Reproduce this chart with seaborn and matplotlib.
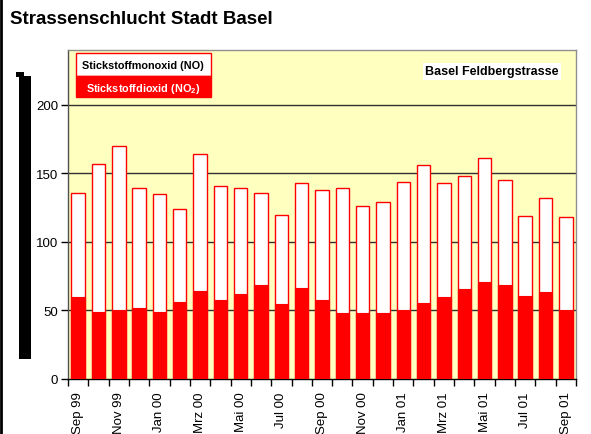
import matplotlib
matplotlib.use("Agg")
import matplotlib.pyplot as plt
from matplotlib.patches import Rectangle
from matplotlib.lines import Line2D
import seaborn as sns
import pandas as pd

# Monatswerte Sep 99 - Sep 01
monate = ["Sep 99", "Okt 99", "Nov 99", "Dez 99", "Jan 00", "Feb 00", "Mrz 00",
          "Apr 00", "Mai 00", "Jun 00", "Jul 00", "Aug 00", "Sep 00", "Okt 00",
          "Nov 00", "Dez 00", "Jan 01", "Feb 01", "Mrz 01", "Apr 01", "Mai 01",
          "Jun 01", "Jul 01", "Aug 01", "Sep 01"]
no2 = [60, 49, 50, 51.5, 49, 56.5, 64.5, 57.5, 62, 68.5, 54.5, 66.5, 57.5, 48,
       48.5, 48, 50, 55.5, 59.5, 65.5, 71, 68.5, 60.5, 63.5, 50]
no = [76, 108, 120, 87.5, 86, 67.5, 99.5, 83.5, 77, 67.5, 65.5, 76.5, 80.5, 91,
      77.5, 81, 94, 100.5, 83.5, 82.5, 90, 76.5, 58.5, 68.5, 68]
y_ticks = [0, 50, 100, 150, 200]

df = pd.DataFrame({"Monat": monate, "NO2": no2, "NO": no})
df["Summe"] = df["NO2"] + df["NO"]

sns.set_theme(style="white")
plt.rcParams["font.family"] = ["Liberation Sans", "DejaVu Sans"]
plt.rcParams["text.color"] = "black"
plt.rcParams["xtick.color"] = "black"
plt.rcParams["ytick.color"] = "black"
plt.rcParams["mathtext.fontset"] = "custom"
plt.rcParams["mathtext.rm"] = "Liberation Sans:bold"
plt.rcParams["mathtext.it"] = "Liberation Sans:bold"
plt.rcParams["mathtext.bf"] = "Liberation Sans:bold"

fig = plt.figure(figsize=(5.91, 4.35), dpi=100)
ax = fig.add_axes([68 / 591, 55 / 435, 508 / 591, 329 / 435])
ax.set_facecolor("#FFFFC0")

# gestapelte Balken: erst Summe (weiss), dann NO2 (rot) darueber
sns.barplot(data=df, x="Monat", y="Summe", order=monate, color="white",
            edgecolor="#FF0000", linewidth=1, width=0.66, saturation=1, ax=ax, zorder=3)
sns.barplot(data=df, x="Monat", y="NO2", order=monate, color="#FF0000",
            edgecolor="#FF0000", linewidth=0.8, width=0.66, saturation=1, ax=ax, zorder=4)

ax.set_ylim(0, 240)
ax.set_xlim(-0.5, len(monate) - 0.5)
ax.set_yticks(y_ticks)
ax.set_yticklabels([str(v) for v in y_ticks], fontsize=9.5)
for v in y_ticks[1:]:
    ax.axhline(v, color="#303030", lw=1, zorder=2)

ax.set_xticks(range(0, len(monate), 2))
ax.set_xticklabels(monate[::2], rotation=90, fontsize=9.5)
ax.set_xticks([i - 0.5 for i in range(len(monate) + 1)], minor=True)
ax.tick_params(axis="x", which="major", length=0, pad=9)
ax.tick_params(axis="x", which="minor", length=5, width=1, color="black", direction="out", bottom=True)
ax.tick_params(axis="y", length=5, width=1, color="black", direction="out", left=True, pad=2)
ax.set_xlabel("")
ax.set_ylabel("")

ax.spines["left"].set_color("#505050")
ax.spines["top"].set_color("#909090")
ax.spines["right"].set_color("#909090")
ax.spines["bottom"].set_color("black")
for s in ax.spines.values():
    s.set_linewidth(1)

# Legende als Kasten
ax.add_patch(Rectangle((0.0157, 0.921), 0.266, 0.07, transform=ax.transAxes,
                       facecolor="white", edgecolor="#FF0000", lw=1, zorder=6))
ax.add_patch(Rectangle((0.0157, 0.857), 0.266, 0.064, transform=ax.transAxes,
                       facecolor="#FF0000", edgecolor="#FF0000", lw=1, zorder=6))
ax.text(0.148, 0.955, "Stickstoffmonoxid (NO)", transform=ax.transAxes, ha="center",
        va="center", fontsize=7.8, fontweight="bold", color="black", zorder=7)
ax.text(0.148, 0.886, "Stickstoffdioxid (NO$_2$)", transform=ax.transAxes, ha="center",
        va="center", fontsize=7.8, fontweight="bold", color="white", zorder=7)

ax.text(0.835, 0.935, "Basel Feldbergstrasse", transform=ax.transAxes, ha="center",
        va="center", fontsize=9, fontweight="bold", color="black", zorder=7,
        bbox=dict(facecolor="white", edgecolor="none", pad=1.5))

fig.text(10 / 591, 1 - 20 / 435, "Strassenschlucht Stadt Basel", ha="left", va="center",
         fontsize=13.5, fontweight="bold", color="black")

# schwarzer Balken links und Rahmenlinie
fig.add_artist(Rectangle((19 / 591, 1 - 360 / 435), 12 / 591, 283 / 435,
                         transform=fig.transFigure, facecolor="black", edgecolor="none"))
fig.add_artist(Rectangle((16 / 591, 1 - 78 / 435), 8 / 591, 5 / 435,
                         transform=fig.transFigure, facecolor="black", edgecolor="none"))
fig.add_artist(Line2D([0.001, 0.001], [0, 1], transform=fig.transFigure, color="black", lw=2))

fig.savefig("out.png", dpi=100)
